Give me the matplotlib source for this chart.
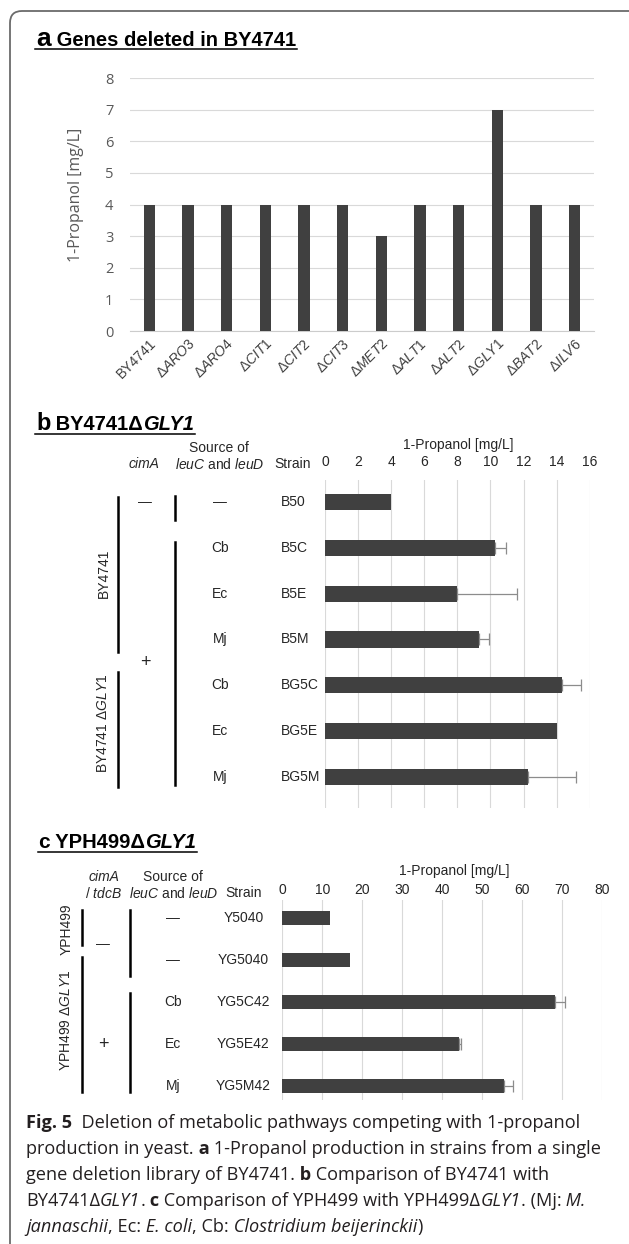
import numpy as np
import matplotlib
matplotlib.use("Agg")
import matplotlib.pyplot as plt
from matplotlib import transforms
from matplotlib.lines import Line2D
from matplotlib.patches import FancyBboxPatch

plt.rcParams["mathtext.fontset"] = "custom"
plt.rcParams["mathtext.rm"] = "Liberation Sans"
plt.rcParams["mathtext.it"] = "Liberation Sans:italic"
plt.rcParams["mathtext.bf"] = "Liberation Sans:bold"
plt.rcParams["font.family"] = ["Liberation Sans", "DejaVu Sans"]

# a: single gene deletions in BY4741
genes = ["BY4741", "ARO3", "ARO4", "CIT1", "CIT2", "CIT3",
         "MET2", "ALT1", "ALT2", "GLY1", "BAT2", "ILV6"]
propanol_a = [4, 4, 4, 4, 4, 4, 3, 4, 4, 7, 4, 4]

# b: BY4741 vs BY4741 dGLY1
b_strains = ["B50", "B5C", "B5E", "B5M", "BG5C", "BG5E", "BG5M"]
b_source = ["—", "Cb", "Ec", "Mj", "Cb", "Ec", "Mj"]
b_values = [4.0, 10.3, 8.0, 9.3, 14.3, 14.0, 12.3]
b_errors = [0, 0.65, 3.6, 0.6, 1.2, 0, 2.9]
b_ticks = [0, 2, 4, 6, 8, 10, 12, 14, 16]

# c: YPH499 vs YPH499 dGLY1
c_strains = ["Y5040", "YG5040", "YG5C42", "YG5E42", "YG5M42"]
c_source = ["—", "—", "Cb", "Ec", "Mj"]
c_values = [12.0, 17.0, 68.4, 44.3, 55.4]
c_errors = [0, 0, 2.3, 0.5, 2.5]
c_ticks = [0, 10, 20, 30, 40, 50, 60, 70, 80]

W, H = 629, 1244
BAR = "#404040"
GRID = "#d9d9d9"
TXT = "#262626"

fig = plt.figure(figsize=(W / 100, H / 100), dpi=100)


def fx(x):
    return x / W


def fy(y):
    return 1 - y / H


def axes_px(left, top, right, bottom):
    return fig.add_axes([left / W, 1 - bottom / H, (right - left) / W, (bottom - top) / H])


def text_runs(x, y, parts, size, family, color=TXT):
    # draw consecutive text pieces with their own weight/style on one baseline
    r = fig.canvas.get_renderer()
    for s, weight, style, sz in parts:
        t = fig.text(fx(x), fy(y), s, fontsize=sz or size, family=family,
                     weight=weight, style=style, ha="left", va="baseline", color=color)
        x += t.get_window_extent(r).width
    return x


def underline(x0, x1, y):
    fig.add_artist(Line2D([fx(x0), fx(x1)], [fy(y), fy(y)], color="black", lw=1.1))


def hbar_panel(ax, values, errors, ticks):
    rows = np.arange(len(values))
    ax.barh(rows, values, height=0.35, color=BAR, zorder=3)
    vals = np.array(values)
    errs = np.array(errors)
    m = errs > 0
    ax.errorbar(vals[m], rows[m], xerr=[np.zeros(m.sum()), errs[m]], fmt="none",
                ecolor="#8c8c8c", elinewidth=0.9, capsize=4, capthick=0.9, zorder=4)
    ax.set_xlim(ticks[0], ticks[-1])
    ax.set_xticks(ticks)
    ax.xaxis.tick_top()
    ax.xaxis.grid(True, color=GRID, lw=0.8)
    ax.set_axisbelow(True)
    ax.set_yticks([])
    for s in ax.spines.values():
        s.set_visible(False)
    ax.tick_params(axis="x", length=0, labelsize=10, labelcolor=TXT)


# frame round the figure
fig.add_artist(FancyBboxPatch((10, -18), 640, 1251, boxstyle="round,pad=0,rounding_size=12",
                              transform=transforms.IdentityTransform(),
                              fill=False, ec="#6b6b6b", lw=1.3))

# ---------------- panel a ----------------
ax_a = axes_px(130, 78, 594, 331)
xa = np.arange(len(genes))
ax_a.bar(xa, propanol_a, width=0.3, color=BAR, zorder=3)
ax_a.set_xlim(-0.5, len(genes) - 0.5)
ax_a.set_ylim(0, 8)
ax_a.set_yticks(range(9))
ax_a.yaxis.grid(True, color=GRID, lw=0.8)
ax_a.set_axisbelow(True)
for k in ["top", "right", "left"]:
    ax_a.spines[k].set_visible(False)
ax_a.spines["bottom"].set_color("#cccccc")
ax_a.tick_params(length=0)
ax_a.tick_params(axis="y", pad=12, labelsize=10.5, labelcolor="#595959")
for lab in ax_a.get_yticklabels():
    lab.set_family("Open Sans")
labels_a = [genes[0]] + [r"Δ$\mathit{%s}$" % g for g in genes[1:]]
ax_a.set_xticks(xa, labels_a, rotation=45, ha="right", va="top",
                rotation_mode="anchor", fontsize=10, color="#404040")
ax_a.tick_params(axis="x", pad=4)
ax_a.set_ylabel("1-Propanol [mg/L]", family="Open Sans", fontsize=11.5, color="#595959")
ax_a.yaxis.set_label_coords(-0.099, 0.54)

end = text_runs(36, 46, [("a", "bold", "normal", 19), (" Genes deleted in BY4741", "bold", "normal", 14.5)],
                14, "Liberation Sans", color="black")
underline(35, end + 1, 48.5)

# ---------------- panel b ----------------
ax_b = axes_px(325.3, 480, 589.6, 808)
hbar_panel(ax_b, b_values, b_errors, b_ticks)
ax_b.set_ylim(6.677, -0.48)
ax_b.tick_params(axis="x", pad=8)
tb = transforms.blended_transform_factory(fig.transFigure, ax_b.transData)

end = text_runs(36, 430, [("b", "bold", "normal", 17), (" BY4741Δ", "bold", "normal", 14.5),
                          ("GLY1", "bold", "italic", 14.5)], 14, "Liberation Sans", color="black")
underline(35, end + 1, 434)

hdr = dict(fontsize=10, color=TXT, ha="center", va="center")
fig.text(fx(458.5), fy(445), "1-Propanol [mg/L]", **hdr)
fig.text(fx(144.4), fy(464), "cimA", style="italic", **hdr)
fig.text(fx(219.4), fy(448), "Source of", **hdr)
fig.text(fx(219.4), fy(464), r"$\mathit{leuC}$ and $\mathit{leuD}$", **hdr)
fig.text(fx(292.8), fy(464), "Strain", **hdr)

for i, (src, st) in enumerate(zip(b_source, b_strains)):
    fig.text(fx(219.8), i, src, transform=tb, **hdr)
    fig.text(fx(281), i, st, transform=tb, fontsize=10, color=TXT, ha="left", va="center")
fig.text(fx(145), 0, "—", transform=tb, **hdr)
fig.text(fx(145), 3.5, "+", transform=tb, fontsize=13, color=TXT, ha="center", va="center")
fig.text(fx(103.5), 1.55, "BY4741", rotation=90, transform=tb, **hdr)
fig.text(fx(103.5), 4.82, r"BY4741 Δ$\mathit{GLY1}$", rotation=90, transform=tb, **hdr)
for xl, y0, y1 in [(118.3, -0.1, 3.27), (118.3, 3.71, 6.22), (175.3, -0.13, 0.39), (175.3, 0.87, 6.17)]:
    fig.add_artist(Line2D([fx(xl)] * 2, [y0, y1], transform=tb, color="black", lw=1.8))

# ---------------- panel c ----------------
ax_c = axes_px(282.4, 900, 601.7, 1100)
hbar_panel(ax_c, c_values, c_errors, c_ticks)
ax_c.set_ylim(4.33, -0.43)
ax_c.tick_params(axis="x", pad=2)
tc = transforms.blended_transform_factory(fig.transFigure, ax_c.transData)

end = text_runs(38, 848, [("c", "bold", "normal", 15), (" YPH499Δ", "bold", "normal", 14.5),
                          ("GLY1", "bold", "italic", 14.5)], 14, "Liberation Sans", color="black")
underline(38, end + 1, 851.5)

fig.text(fx(454.5), fy(871), "1-Propanol [mg/L]", **hdr)
fig.text(fx(103.5), fy(877), "cimA", style="italic", **hdr)
fig.text(fx(103.5), fy(893), r"/ $\mathit{tdcB}$", **hdr)
fig.text(fx(173.3), fy(877), "Source of", **hdr)
fig.text(fx(173.3), fy(893), r"$\mathit{leuC}$ and $\mathit{leuD}$", **hdr)
fig.text(fx(243.5), fy(893), "Strain", **hdr)

for i, (src, st) in enumerate(zip(c_source, c_strains)):
    fig.text(fx(173.3), i, src, transform=tc, **hdr)
    fig.text(fx(243.5), i, st, transform=tc, **hdr)
fig.text(fx(103), 0.62, "—", transform=tc, **hdr)
fig.text(fx(103), 3.0, "+", transform=tc, fontsize=13, color=TXT, ha="center", va="center")
fig.text(fx(66.2), 0.26, "YPH499", rotation=90, transform=tc, **hdr)
fig.text(fx(66.2), 2.43, r"YPH499 Δ$\mathit{GLY1}$", rotation=90, transform=tc, **hdr)
for xl, y0, y1 in [(82.2, -0.19, 0.64), (82.2, 0.93, 4.14), (129.6, -0.19, 1.38), (129.6, 1.79, 4.14)]:
    fig.add_artist(Line2D([fx(xl)] * 2, [y0, y1], transform=tc, color="black", lw=1.8))

# ---------------- caption ----------------
cap = "Open Sans"
cs = 13.1
R, B, I = ("normal", "normal"), ("bold", "normal"), ("normal", "italic")
caption = [
    [("Fig. 5", B), ("  Deletion of metabolic pathways competing with 1-propanol", R)],
    [("production in yeast.", R), (" a", B), (" 1-Propanol production in strains from a single", R)],
    [("gene deletion library of BY4741.", R), (" b", B), (" Comparison of BY4741 with", R)],
    [("BY4741Δ", R), ("GLY1", I), (".", R), (" c", B), (" Comparison of YPH499 with YPH499Δ", R),
     ("GLY1", I), (". (Mj:", R), (" M.", I)],
    [("jannaschii", I), (", Ec:", R), (" E. coli", I), (", Cb:", R),
     (" Clostridium beijerinckii", I), (")", R)],
]
for k, line in enumerate(caption):
    text_runs(26, 1128 + 26 * k, [(s, w, st, None) for s, (w, st) in line], cs, cap, color="#231f20")

fig.savefig("out.png", dpi=100)
